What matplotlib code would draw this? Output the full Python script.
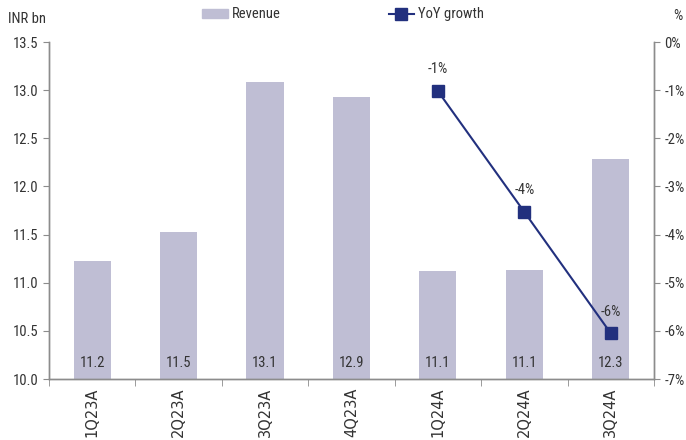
import matplotlib.pyplot as plt
import numpy as np

quarters = ["1Q23A", "2Q23A", "3Q23A", "4Q23A", "1Q24A", "2Q24A", "3Q24A"]
revenue = [11.23, 11.53, 13.08, 12.93, 11.12, 11.13, 12.29]
revenue_labels = ["11.2", "11.5", "13.1", "12.9", "11.1", "11.1", "12.3"]
yoy_idx = [4, 5, 6]
yoy = [-1.02, -3.53, -6.05]
yoy_labels = ["-1%", "-4%", "-6%"]

plt.rcParams["font.family"] = ["Roboto Condensed", "Roboto", "DejaVu Sans"]
bar_c = "#bfbed4"
line_c = "#22307e"
txt_c = "#333333"
spine_c = "#8c8c8c"

fig = plt.figure(figsize=(6.86, 4.40), dpi=100)
ax = fig.add_axes([0.0714, 0.1386, 0.8819, 0.7659])
ax2 = ax.twinx()

x = np.arange(len(quarters))
ax.bar(x, revenue, width=0.43, color=bar_c, zorder=1)
for xi, lab in zip(x, revenue_labels):
    ax.text(xi, 10.17, lab, ha="center", va="center", fontsize=10.5, color=txt_c)

ax.set_ylim(10.0, 13.5)
ax.set_yticks(np.arange(10.0, 13.51, 0.5))
ax.set_yticklabels([f"{v:.1f}" for v in np.arange(10.0, 13.51, 0.5)])
ax.set_xlim(-0.5, len(quarters) - 0.5)
ax.set_xticks(x)
ax.set_xticklabels(quarters, rotation=90, family="DejaVu Sans", fontsize=10.5)
ax.set_xticks(np.arange(-0.5, len(quarters)), minor=True)
ax.tick_params(axis="x", which="major", length=0, pad=6, colors=txt_c)
ax.tick_params(axis="x", which="minor", length=5, color=spine_c, direction="out")
ax.tick_params(axis="y", length=4, color=spine_c, colors=txt_c, labelsize=10.5)

ax2.plot(yoy_idx, yoy, color=line_c, lw=1.5, marker="s", ms=9, zorder=3)
for xi, v, lab in zip(yoy_idx, yoy, yoy_labels):
    ax2.text(xi, v + 0.45, lab, ha="center", va="center", fontsize=10.5, color=txt_c)
ax2.set_ylim(-7, 0)
ax2.set_yticks(range(-7, 1))
ax2.set_yticklabels([f"{v}%" for v in range(-7, 1)])
ax2.tick_params(axis="y", length=4, color=spine_c, colors=txt_c, labelsize=10.5)

for a in (ax, ax2):
    a.spines["top"].set_visible(False)
    for s in ("left", "right", "bottom"):
        a.spines[s].set_color(spine_c)
        a.spines[s].set_linewidth(1.0)

fig.text(0.012, 0.956, "INR bn", fontsize=10.5, color=txt_c, va="center")
fig.text(0.995, 0.963, "%", fontsize=10.5, color=txt_c, va="center", ha="right")

# legend
fig.patches.append(plt.Rectangle((0.294, 0.959), 0.038, 0.02, transform=fig.transFigure,
                                 color=bar_c, figure=fig))
fig.text(0.338, 0.969, "Revenue", fontsize=10.5, color=txt_c, va="center")
fig.add_artist(plt.Line2D([0.567, 0.603], [0.969, 0.969], transform=fig.transFigure,
                          color=line_c, lw=1.5))
fig.add_artist(plt.Line2D([0.585], [0.969], transform=fig.transFigure,
                          color=line_c, marker="s", ms=8, lw=0))
fig.text(0.61, 0.969, "YoY growth", fontsize=10.5, color=txt_c, va="center")

fig.savefig("out.png", dpi=100)
